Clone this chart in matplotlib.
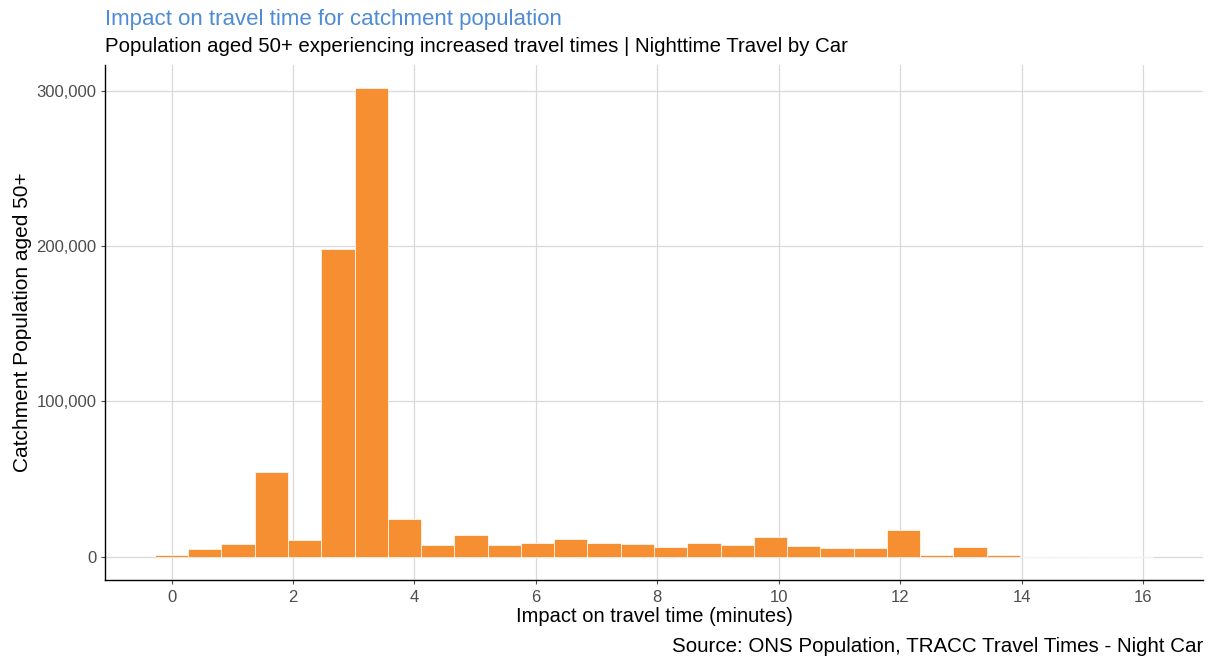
import matplotlib.pyplot as plt
import numpy as np
from matplotlib.ticker import FuncFormatter

plt.rcParams['font.family'] = ['Liberation Sans', 'DejaVu Sans']

# bin centres (minutes) and catchment population per bin
bin_width = 0.548
bin_centres = [i * bin_width for i in range(30)]
population = [1100, 4750, 8200, 54500, 10600, 198300, 301800, 24500, 7560, 14040,
              7560, 9070, 11230, 9070, 8420, 6260, 9070, 7560, 12530, 6900,
              5600, 5600, 16850, 900, 6260, 900, 0, 0, 0, 0]

x_ticks = [0, 2, 4, 6, 8, 10, 12, 14, 16]
y_ticks = [0, 100000, 200000, 300000]

fig = plt.figure(figsize=(12.12, 6.61), dpi=100)
ax = fig.add_axes([105 / 1212, 1 - 580 / 661, (1203 - 105) / 1212, (580 - 65) / 661])

ax.bar(bin_centres, population, width=bin_width, color='#F68F32',
       edgecolor='white', linewidth=0.5, zorder=2)

ax.set_xticks(x_ticks)
ax.set_yticks(y_ticks)
ax.yaxis.set_major_formatter(FuncFormatter(lambda v, p: f'{int(v):,}'))

lo = bin_centres[0] - bin_width / 2
hi = bin_centres[-1] + bin_width / 2
pad = (hi - lo) * 0.05
ax.set_xlim(lo - pad, hi + pad)
ymax = max(population)
ax.set_ylim(-ymax * 0.05, ymax * 1.05)

ax.grid(True, color='#d9d9d9', linewidth=0.9, zorder=0)
ax.set_axisbelow(True)
for s in ['top', 'right']:
    ax.spines[s].set_visible(False)
for s in ['left', 'bottom']:
    ax.spines[s].set_color('black')
    ax.spines[s].set_linewidth(1.0)
ax.tick_params(colors='#4d4d4d', labelsize=12, length=3, width=0.8)
ax.tick_params(axis='x', pad=4)
ax.tick_params(axis='y', pad=3)

ax.set_xlabel('Impact on travel time (minutes)', fontsize=14.5, color='black', labelpad=2)
ax.set_ylabel('Catchment Population aged 50+', fontsize=15, color='black', labelpad=3)

fig.text(105 / 1212, 1 - 19 / 661, 'Impact on travel time for catchment population',
         fontsize=16, color='#4F8BD6', ha='left', va='center')
fig.text(105 / 1212, 1 - 47 / 661,
         'Population aged 50+ experiencing increased travel times | Nighttime Travel by Car',
         fontsize=14.7, color='black', ha='left', va='center')
fig.text(1203 / 1212, 1 - 647 / 661, 'Source: ONS Population, TRACC Travel Times - Night Car',
         fontsize=14.8, color='black', ha='right', va='center')

fig.savefig('out.png', dpi=100)
